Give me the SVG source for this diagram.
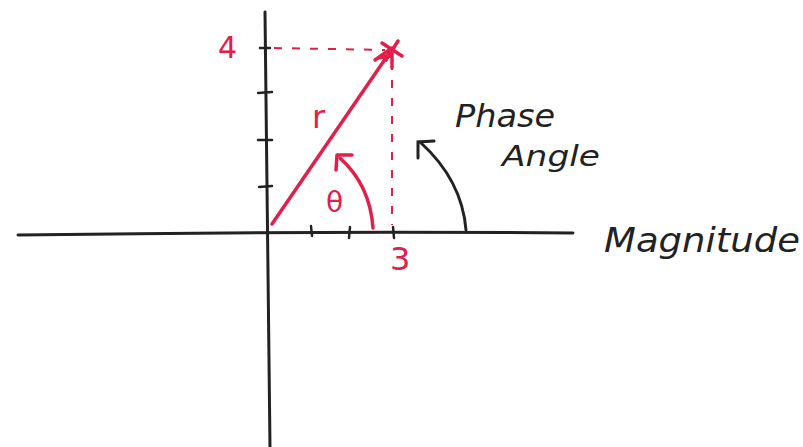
<svg xmlns="http://www.w3.org/2000/svg" width="803" height="447" viewBox="0 0 803 447">
<style>
.ax{stroke:#222;stroke-width:3;fill:none;stroke-linecap:round}
.tk{stroke:#222;stroke-width:2.5;fill:none;stroke-linecap:round}
.rd{stroke:#e0204a;stroke-width:3.5;fill:none;stroke-linecap:round;stroke-linejoin:round}
.dash{stroke:#e0204a;stroke-width:2;fill:none;stroke-dasharray:8 10}
.rt{fill:#e0204a;font-family:"DejaVu Sans",sans-serif}
.bt{fill:#222;font-family:"DejaVu Sans",sans-serif;font-style:italic}
</style>
<rect width="803" height="447" fill="#fff"/>
<g id="axes">
<path class="ax" d="M18 235 Q300 231 573 233"/>
<path class="ax" d="M265 12 Q267 200 270 447"/>
<path class="tk" d="M260 48 L270 48 M258 93 L272 92 M258 140 L272 140 M259 187 L272 186 M311 226 L312 236 M350 227 L349 238 M393 227 L394 238"/>
</g>
<g id="connectors">
<path class="dash" d="M274 48 L385 50"/>
<path class="dash" d="M392 62 L392 225"/>
<path class="rd" d="M272 224 L390 52"/>
<path class="rd" d="M375 60 L392 48 L392 68 M378 58 L390 56"/>
<path class="rd" d="M382 43 L402 56 M398 41 L386 60"/>
<path class="rd" d="M373 228 Q370 185 340 158"/>
<path class="rd" d="M336 170 L337 155 L352 155"/>
<path class="ax" d="M466 230 Q462 180 420 142"/>
<path class="ax" d="M418 158 L418 142 L434 141"/>
</g>
<g id="labels">
<text class="rt" x="218" y="58" font-size="30">4</text>
<text class="rt" x="390" y="270" font-size="32">3</text>
<text class="rt" x="312" y="128" font-size="32">r</text>
<text class="rt" x="326" y="212" font-size="28">θ</text>
<text class="bt" x="455" y="127" font-size="32" textLength="100" lengthAdjust="spacingAndGlyphs">Phase</text>
<text class="bt" x="502" y="166" font-size="28" textLength="98" lengthAdjust="spacingAndGlyphs">Angle</text>
<text class="bt" x="604" y="252" font-size="34" textLength="196" lengthAdjust="spacingAndGlyphs">Magnitude</text>
</g>
</svg>
